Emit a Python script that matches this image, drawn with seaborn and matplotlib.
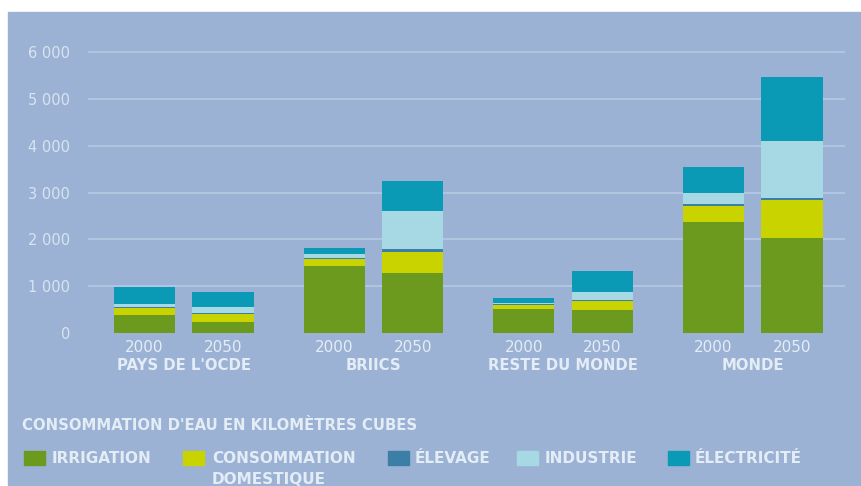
import numpy as np
import pandas as pd
import matplotlib
matplotlib.use("Agg")
import matplotlib.pyplot as plt
import matplotlib.transforms as mtransforms
from matplotlib.patches import Rectangle
import seaborn as sns

# ---- data (km3) ----
regions = ["PAYS DE L'OCDE", "BRIICS", "RESTE DU MONDE", "MONDE"]
years = ["2000", "2050"]
irrigation = [375, 226, 1440, 1290, 510, 490, 2365, 2025]
domestique = [165, 186, 135, 450, 90, 200, 355, 805]
elevage = [15, 10, 20, 50, 15, 20, 35, 50]
industrie = [55, 133, 85, 825, 25, 175, 245, 1210]
electricite = [380, 320, 130, 640, 100, 440, 555, 1375]

series_names = ["IRRIGATION", "CONSOMMATION\nDOMESTIQUE", "ÉLEVAGE", "INDUSTRIE", "ÉLECTRICITÉ"]
colors = ["#6b9a1e", "#c8d300", "#3b7ea6", "#a6d9e4", "#0b9ab6"]
BG = "#9bb2d5"
TXT = "#e4ecf6"

group_gap = 2.415
pos = []
for g in range(len(regions)):
    pos += [g * group_gap, g * group_gap + 1]

df = pd.DataFrame({"pos": pos, "irr": irrigation, "dom": domestique,
                   "ele": elevage, "ind": industrie, "elec": electricite})
layers = ["irr", "dom", "ele", "ind", "elec"]
cum = df[layers].cumsum(axis=1)

fig = plt.figure(figsize=(8.61, 4.86), dpi=100, facecolor="white")
fig.patches.append(Rectangle((8 / 861, 0), 1, (486 - 12) / 486,
                             transform=fig.transFigure, color=BG, zorder=-5))
ax = fig.add_axes([88 / 861, (486 - 333) / 486, (845 - 88) / 861, (333 - 38) / 486])
ax.set_facecolor(BG)

# stacked bars: draw cumulative totals from the top layer down
for i in range(len(layers) - 1, -1, -1):
    sns.barplot(x=df["pos"], y=cum[layers[i]], native_scale=True, color=colors[i],
                saturation=1, width=0.78, errorbar=None, ax=ax, zorder=3)

ax.set_xlim(-0.72, 8.92)
ax.set_ylim(0, 6300)
ax.set_yticks(range(0, 7000, 1000))
ax.set_yticklabels(["0", "1 000", "2 000", "3 000", "4 000", "5 000", "6 000"])
ax.grid(axis="y", color="#b9cbe5", linewidth=1.1, zorder=0)
ax.set_axisbelow(True)
ax.yaxis.get_gridlines()[0].set_visible(False)
ax.set_xticks(pos)
ax.set_xticklabels(years * len(regions))
ax.tick_params(axis="y", length=0, pad=13, labelcolor="#d9e3f1", labelsize=10.5)
ax.tick_params(axis="x", length=0, pad=5, labelcolor=TXT, labelsize=11)
ax.set_xlabel("")
ax.set_ylabel("")
for s in ax.spines.values():
    s.set_visible(False)

bold = dict(family="DejaVu Sans", fontweight="bold", color=TXT)
trans = mtransforms.blended_transform_factory(ax.transData, fig.transFigure)
for g, name in enumerate(regions):
    ax.text(g * group_gap + 0.5, 1 - 365 / 486, name, transform=trans,
            ha="center", va="center", fontsize=10.7, **bold)

# legend block
fig.text(22 / 861, 1 - 425 / 486, "CONSOMMATION D'EAU EN KILOMÈTRES CUBES",
         ha="left", va="center", fontsize=10.7, **bold)
sq_x = [24, 183, 388, 517, 668]
tx_x = [52, 212, 415, 545, 695]
for i, name in enumerate(series_names):
    fig.patches.append(Rectangle((sq_x[i] / 861, 1 - 465 / 486), 21 / 861, 14 / 486,
                                 transform=fig.transFigure, color=colors[i], zorder=2))
    fig.text(tx_x[i] / 861, 1 - 451 / 486, name, ha="left", va="top",
             fontsize=11, linespacing=1.5, **bold)

fig.savefig("out.png", dpi=100, facecolor=fig.get_facecolor())
